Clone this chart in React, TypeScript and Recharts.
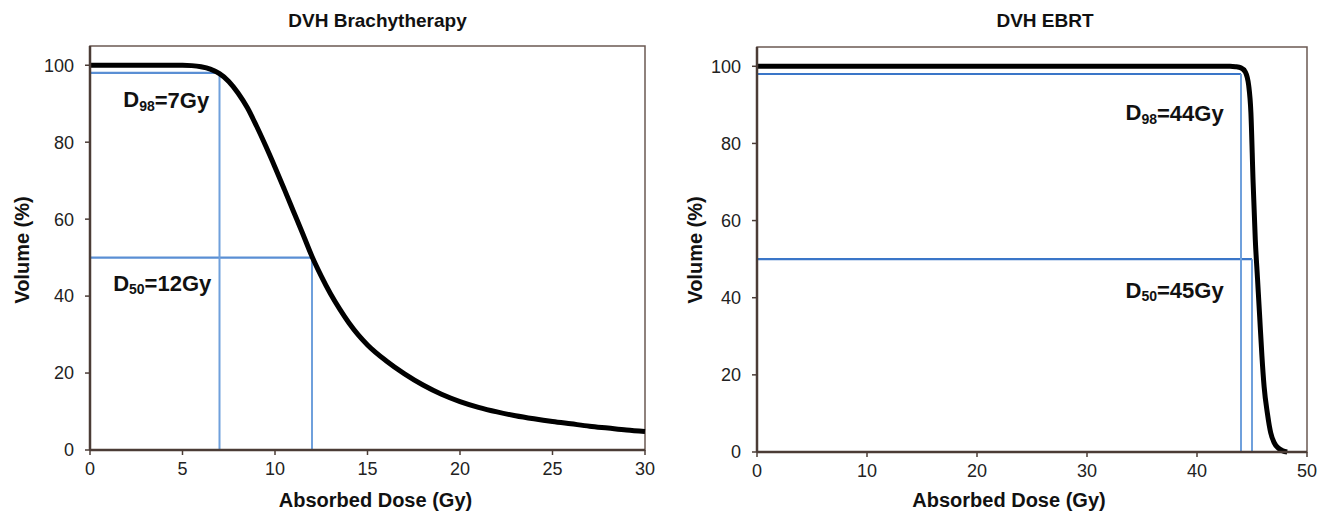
import React from 'react';
import { LineChart, Line, XAxis, YAxis, ReferenceLine, ReferenceArea, ReferenceDot } from 'recharts';

// Brachytherapy cumulative DVH
const brachyDose = [0, 1, 2, 3, 4, 5, 5.5, 6, 6.5, 7, 7.5, 8, 8.5, 9, 9.5, 10, 10.5, 11, 11.5, 12, 12.5, 13, 13.5, 14, 14.5, 15, 16, 17, 18, 19, 20, 21, 22, 23, 24, 25, 26, 27, 28, 29, 30];
const brachyVolume = [100, 100, 100, 100, 100, 100, 99.9, 99.6, 99.0, 97.8, 95.8, 92.8, 89.0, 84.2, 79.0, 73.5, 67.8, 62.0, 56.2, 50.3, 45.2, 40.6, 36.6, 33.0, 29.9, 27.3, 23.2, 19.8, 16.9, 14.5, 12.6, 11.1, 9.9, 8.9, 8.1, 7.4, 6.8, 6.2, 5.7, 5.2, 4.8];

// EBRT cumulative DVH
const ebrtDose = [0, 10, 20, 30, 40, 43, 43.5, 44, 44.4, 44.7, 44.9, 45.1, 45.3, 45.5, 45.7, 45.9, 46.1, 46.4, 46.7, 47, 47.4, 47.8, 48.2];
const ebrtVolume = [100, 100, 100, 100, 100, 100, 99.9, 99.6, 98.5, 95, 88, 70, 55, 45, 35, 25, 17, 10, 5, 2.5, 1, 0.3, 0];

const brachyTicksX = [0, 5, 10, 15, 20, 25, 30];
const ebrtTicksX = [0, 10, 20, 30, 40, 50];
const volumeTicks = [0, 20, 40, 60, 80, 100];

// dose metrics: D_sub = dose at which `vol` % of the volume is covered
const brachyMarks = [
  { sub: '98', vol: 98, dose: 7, text: '=7Gy', at: [1.8, 91] },
  { sub: '50', vol: 50, dose: 12, text: '=12Gy', at: [1.25, 43.4] },
];
const ebrtMarks = [
  { sub: '98', vol: 98, dose: 44, text: '=44Gy', at: [33.5, 88] },
  { sub: '50', vol: 50, dose: 45, text: '=45Gy', at: [33.5, 42] },
];

const FONT = '"Liberation Sans", Arial, sans-serif';
const AXIS = '#4b3c36';

const toRows = (xs: number[], ys: number[]) => xs.map((d, i) => ({ dose: d, volume: ys[i] }));

const DoseTag = ({ cx, cy, sub, text }: any) => (
  <text x={cx} y={cy} fontFamily={FONT} fontWeight="bold" fontSize={22} fill="#111" dominantBaseline="central">
    D
    <tspan dy={6} fontSize={14}>{sub}</tspan>
    <tspan dy={-6}>{text}</tspan>
  </text>
);

const XTitle = ({ viewBox, dx = 0 }: any) => (
  <text
    x={viewBox.x + viewBox.width / 2 + dx}
    y={500}
    textAnchor="middle"
    dominantBaseline="central"
    fontFamily={FONT}
    fontWeight="bold"
    fontSize={20}
    fill="#111"
  >
    Absorbed Dose  (Gy)
  </text>
);

const YTitle = ({ x, cy }: any) => (
  <text
    x={x}
    y={cy}
    transform={`rotate(-90 ${x} ${cy})`}
    textAnchor="middle"
    dominantBaseline="central"
    fontFamily={FONT}
    fontWeight="bold"
    fontSize={20}
    fill="#111"
  >
    Volume (%)
  </text>
);

interface PanelProps {
  title: string;
  rows: { dose: number; volume: number }[];
  xMax: number;
  xTicks: number[];
  marks: typeof brachyMarks;
  width: number;
  margin: { top: number; right: number; bottom: number; left: number };
  titleDx: number;
  xTitleDx: number;
  yTitleX: number;
  hColor: string;
}

const DvhPanel = ({ title, rows, xMax, xTicks, marks, width, margin, titleDx, xTitleDx, yTitleX, hColor }: PanelProps) => {
  const plotLeft = margin.left + 60;
  const plotRight = width - margin.right;
  const plotCx = (plotLeft + plotRight) / 2;
  return (
    <div style={{ position: 'relative', width, height: 513 }}>
      <div
        style={{
          position: 'absolute',
          left: plotCx + titleDx - 150,
          width: 300,
          top: 10,
          textAlign: 'center',
          fontFamily: FONT,
          fontWeight: 'bold',
          fontSize: 19,
          color: '#111',
        }}
      >
        {title}
      </div>
      <svg style={{ position: 'absolute', left: 0, top: 0 }} width={width} height={513}>
        <YTitle x={yTitleX} cy={250} />
      </svg>
      <div style={{ position: 'absolute', left: 0, top: 0 }}>
        <LineChart width={width} height={513} data={rows} margin={margin}>
          <XAxis
            dataKey="dose"
            type="number"
            domain={[0, xMax]}
            ticks={xTicks}
            height={30}
            axisLine={{ stroke: AXIS, strokeWidth: 2.5 }}
            tickLine={{ stroke: AXIS, strokeWidth: 1.5 }}
            tickSize={5}
            tickMargin={7}
            tick={{ fill: '#222', fontSize: 18, fontFamily: FONT }}
            label={<XTitle dx={xTitleDx} />}
          />
          <YAxis
            type="number"
            domain={[0, 105]}
            ticks={volumeTicks}
            width={60}
            axisLine={{ stroke: AXIS, strokeWidth: 2.5 }}
            tickLine={{ stroke: AXIS, strokeWidth: 1.5 }}
            tickSize={5}
            tickMargin={11}
            tick={{ fill: '#222', fontSize: 18, fontFamily: FONT }}
          />
          <ReferenceArea x1={0} x2={xMax} y1={0} y2={105} fill="none" stroke="#6b5a53" strokeWidth={1.5} />
          {marks.map((m) => (
            <ReferenceLine
              key={`h${m.sub}`}
              segment={[{ x: 0, y: m.vol }, { x: m.dose, y: m.vol }]}
              stroke={hColor}
              strokeWidth={2.2}
            />
          ))}
          {marks.map((m) => (
            <ReferenceLine
              key={`v${m.sub}`}
              segment={[{ x: m.dose, y: 0 }, { x: m.dose, y: m.vol }]}
              stroke="#6fa0dc"
              strokeWidth={2}
            />
          ))}
          <Line
            type="monotone"
            dataKey="volume"
            stroke="#000"
            strokeWidth={5}
            dot={false}
            isAnimationActive={false}
          />
          {marks.map((m) => (
            <ReferenceDot
              key={`t${m.sub}`}
              x={m.at[0]}
              y={m.at[1]}
              r={0}
              shape={(p: any) => <DoseTag cx={p.cx} cy={p.cy} sub={m.sub} text={m.text} />}
            />
          ))}
        </LineChart>
      </div>
    </div>
  );
};

export default function App() {
  return (
    <div style={{ position: 'absolute', left: 0, top: 0, width: 1318, height: 513, background: '#fff', display: 'flex' }}>
      <DvhPanel
        title="DVH Brachytherapy"
        rows={toRows(brachyDose, brachyVolume)}
        xMax={30}
        xTicks={brachyTicksX}
        marks={brachyMarks}
        width={660}
        margin={{ top: 46, right: 15, bottom: 33, left: 30 }}
        titleDx={10}
        xTitleDx={8}
        yTitleX={22}
        hColor="#5a8fd4"
      />
      <DvhPanel
        title="DVH EBRT"
        rows={toRows(ebrtDose, ebrtVolume)}
        xMax={50}
        xTicks={ebrtTicksX}
        marks={ebrtMarks}
        width={658}
        margin={{ top: 47, right: 11, bottom: 31, left: 37 }}
        titleDx={13}
        xTitleDx={-23}
        yTitleX={35}
        hColor="#3a76c8"
      />
    </div>
  );
}
